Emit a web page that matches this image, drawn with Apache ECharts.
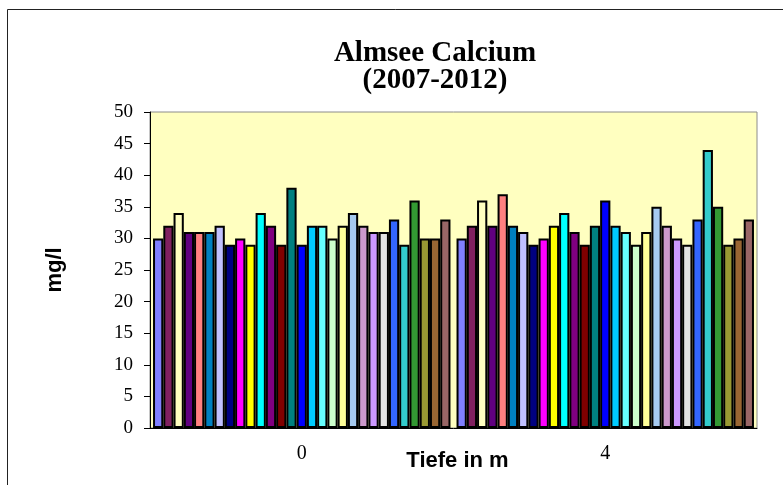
<!DOCTYPE html>
<html>
<head>
<meta charset="utf-8">
<script src="https://cdn.jsdelivr.net/npm/echarts@6/dist/echarts.min.js"></script>
<style>
  html, body { margin: 0; padding: 0; background: #fff; }
  #main { width: 783px; height: 485px; }
</style>
</head>
<body>
<div id="main"></div>
<script>
// Tiefen (Kategorien)
var depths = ['0', '4'];

// Messwerte je Serie, Tiefe 0 m und 4 m
var valuesDepth0 = [30, 32, 34, 31, 31, 31, 32, 29, 30, 29, 34, 32, 29, 38, 29, 32, 32, 30, 32, 34, 32, 31, 31, 33, 29, 36, 30, 30, 33];
var valuesDepth4 = [30, 32, 36, 32, 37, 32, 31, 29, 30, 32, 34, 31, 29, 32, 36, 32, 31, 29, 31, 35, 32, 30, 29, 33, 44, 35, 29, 30, 33];

var yTicks = { min: 0, max: 50, step: 5 };

var seriesColors = [
    '#8080FF', '#802060', '#FFFFC0', '#600080', '#FF8080', '#0080C0', '#C0C0FF', '#000080',
    '#FF00FF', '#FFFF00', '#00FFFF', '#800080', '#800000', '#008080', '#0000FF', '#00CCFF',
    '#66FFFF', '#CCFFCC', '#FFFF99', '#A6CAF0', '#CC99CC', '#CC99FF', '#E3E3E3', '#3366FF',
    '#33CCCC', '#339933', '#999933', '#996633', '#996666'
];

var series = [];
for (var i = 0; i < valuesDepth0.length; i++) {
    series.push({
        name: 'Serie ' + (i + 1),
        type: 'bar',
        barGap: '0%',
        barCategoryGap: '2%',
        data: [valuesDepth0[i], valuesDepth4[i]],
        itemStyle: { color: seriesColors[i], borderColor: '#000', borderWidth: 2 }
    });
}

var myChart = echarts.init(document.getElementById('main'));
var option = {
    animation: false,
    backgroundColor: '#fff',
    title: {
        text: 'Almsee Calcium\n(2007-2012)',
        left: 430,
        top: 35,
        textAlign: 'center',
        textStyle: {
            fontFamily: 'Liberation Serif',
            fontWeight: 'bold',
            fontSize: 29,
            lineHeight: 27,
            color: '#000'
        }
    },
    graphic: [{
        type: 'rect',
        shape: { x: 7.5, y: 9.5, width: 800, height: 500 },
        style: { fill: 'none', stroke: '#222', lineWidth: 1 },
        z: -1
    }],
    grid: {
        left: 150, top: 112, width: 607, height: 316,
        outerBoundsMode: 'none',
        containLabel: false,
        show: true,
        backgroundColor: '#FFFFC0',
        borderColor: '#8c8c8c',
        borderWidth: 1
    },
    xAxis: {
        type: 'category',
        data: depths,
        name: 'Tiefe in m',
        nameLocation: 'middle',
        nameGap: 22,
        nameMoveOverlap: false,
        nameTextStyle: { fontFamily: 'Liberation Sans', fontWeight: 'bold', fontSize: 22, color: '#000', padding: [0, 0, 0, 8] },
        axisLine: { lineStyle: { color: '#000', width: 1 } },
        axisTick: { length: 7, lineStyle: { color: '#000' } },
        axisLabel: { margin: 16, fontFamily: 'Liberation Serif', fontSize: 20, color: '#000' }
    },
    yAxis: {
        type: 'value',
        min: yTicks.min,
        max: yTicks.max,
        interval: yTicks.step,
        name: 'mg/l',
        nameLocation: 'middle',
        nameGap: 84,
        nameMoveOverlap: false,
        nameRotate: 90,
        nameTextStyle: { fontFamily: 'Liberation Sans', fontWeight: 'bold', fontSize: 22, color: '#000' },
        splitLine: { show: false },
        axisLine: { show: true, lineStyle: { color: '#000', width: 1 } },
        axisTick: { show: true, length: 6, lineStyle: { color: '#000' } },
        axisLabel: { margin: 17, fontFamily: 'Liberation Serif', fontSize: 19, color: '#000' }
    },
    series: series
};
myChart.setOption(option);
</script>
</body>
</html>
